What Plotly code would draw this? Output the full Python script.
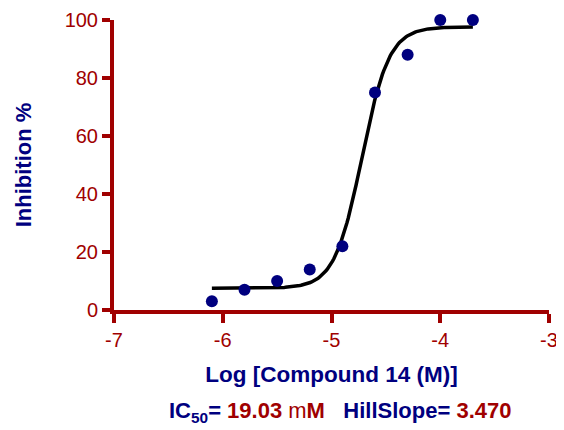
import math
import plotly.graph_objects as go

log_conc = [-6.1, -5.8, -5.5, -5.2, -4.9, -4.6, -4.3, -4.0, -3.7]
inhibition = [3, 7, 10, 14, 22, 75, 88, 100, 100]

# Fitted 4-parameter logistic shown on the chart
fit_bottom = 7.5
fit_top = 97.6
ic50_uM = 19.03
hill_slope = 3.470
fit_x_start, fit_x_end = -6.1, -3.7

x_ticks = [-7, -6, -5, -4, -3]
y_ticks = [0, 20, 40, 60, 80, 100]

log_ic50 = math.log10(ic50_uM * 1e-6)
n_fit = 200
fit_x = [fit_x_start + (fit_x_end - fit_x_start) * i / (n_fit - 1) for i in range(n_fit)]
fit_y = [fit_bottom + (fit_top - fit_bottom) / (1 + 10 ** ((log_ic50 - x) * hill_slope)) for x in fit_x]

NAVY = "#00007F"
RED = "#A00000"
FONT = "Liberation Sans, Arial, sans-serif"

fig = go.Figure()
fig.add_trace(go.Scatter(x=fit_x, y=fit_y, mode="lines",
                         line=dict(color="black", width=3.5), cliponaxis=False,
                         hoverinfo="skip"))
fig.add_trace(go.Scatter(x=log_conc, y=inhibition, mode="markers",
                         marker=dict(color=NAVY, size=12), cliponaxis=False))

# page body has an 8px margin, so the figure is offset by 8px
fig.update_layout(
    width=556, height=422,
    margin=dict(l=106, r=15, t=12, b=120),
    plot_bgcolor="white", paper_bgcolor="white",
    showlegend=False,
    font=dict(family=FONT),
    xaxis=dict(range=[-7, -3], tickvals=x_ticks, ticktext=[str(v) for v in x_ticks],
               automargin=False,
               showgrid=False, zeroline=False, showline=True, linecolor=RED, linewidth=4,
               ticks="outside", ticklen=9, tickwidth=3.5, tickcolor=RED,
               tickfont=dict(size=20, color=RED, family=FONT),
               title=dict(text="<b>Log [Compound 14 (M)]</b>",
                          font=dict(size=22.5, color=NAVY, family=FONT), standoff=17)),
    yaxis=dict(range=[0, 100], tickvals=y_ticks, ticktext=[str(v) for v in y_ticks],
               automargin=False,
               showgrid=False, zeroline=False, showline=True, linecolor=RED, linewidth=4,
               ticks="outside", ticklen=8, tickwidth=3.5, tickcolor=RED,
               tickfont=dict(size=20, color=RED, family=FONT),
               title=dict(text="<b>Inhibition %</b>",
                          font=dict(size=22, color=NAVY, family=FONT), standoff=28)),
)

fig.add_annotation(
    x=0.52, xref="paper", yref="paper", y=-(410 - 308) / 290,
    text=(f"<b><span style='color:{NAVY}'>IC<sub>50</sub>=</span> "
          f"<span style='color:{RED}'>{ic50_uM:.2f} </span></b>"
          f"<span style='color:{RED}'>m</span>"
          f"<b><span style='color:{RED}'>M</span>   "
          f"<span style='color:{NAVY}'>HillSlope=</span> "
          f"<span style='color:{RED}'>{hill_slope:.3f}</span></b>"),
    showarrow=False, font=dict(size=22, family=FONT),
    yanchor="middle",
)

fig.write_html("out.html")
